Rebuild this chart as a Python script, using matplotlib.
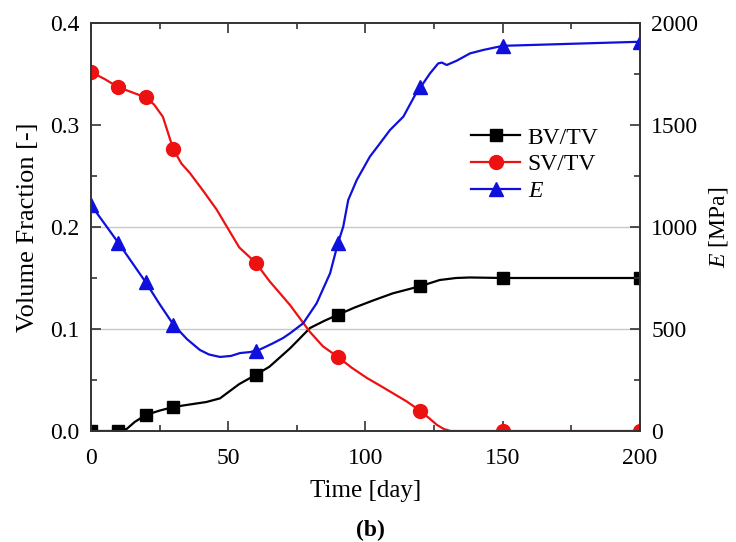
import matplotlib
matplotlib.use("Agg")
import matplotlib.pyplot as plt
from matplotlib.ticker import MultipleLocator
from matplotlib.lines import Line2D

plt.rcParams['font.family'] = ['Liberation Serif', 'DejaVu Serif']
plt.rcParams['mathtext.fontset'] = 'custom'
plt.rcParams['mathtext.it'] = 'Liberation Serif:italic'
plt.rcParams['mathtext.rm'] = 'Liberation Serif'

# marker sample points
t_mark = [0, 10, 20, 30, 60, 90, 120, 150, 200]
bv_mark = [0.0, 0.0, 0.0157, 0.0235, 0.055, 0.114, 0.142, 0.150, 0.150]
sv_mark = [0.352, 0.337, 0.327, 0.276, 0.165, 0.0725, 0.0196, 0.0, 0.0]
e_mark = [1108, 922, 728, 522, 392, 922, 1684, 1888, 1908]

# continuous curves
t_bv = [0, 10, 13, 16, 20, 25, 30, 36, 42, 47, 51, 54, 58, 60, 65, 72.5, 79.8, 85, 90, 96,
        102.8, 110, 120, 127, 133, 138, 150, 200]
bv_line = [0.0, 0.0, 0.002, 0.009, 0.0157, 0.020, 0.0235, 0.026, 0.0284, 0.032, 0.040, 0.046,
           0.052, 0.055, 0.063, 0.081, 0.101, 0.108, 0.114, 0.121, 0.128, 0.135, 0.142, 0.148,
           0.150, 0.1505, 0.150, 0.150]

t_sv = [0, 5, 10, 15, 20, 23, 26.2, 30, 33, 36, 41, 45.8, 50, 54, 60, 65, 72.5, 79.8, 84.5, 90,
        95, 100.5, 105, 110, 115, 120, 123, 126, 128.5, 131, 150, 200]
sv_line = [0.352, 0.345, 0.337, 0.332, 0.327, 0.320, 0.308, 0.276, 0.262, 0.253, 0.235, 0.217,
           0.198, 0.180, 0.165, 0.147, 0.1235, 0.097, 0.083, 0.0725, 0.062, 0.052, 0.045, 0.037,
           0.029, 0.0196, 0.013, 0.006, 0.002, 0.0, 0.0, 0.0]

t_e = [0, 5, 10, 15, 20, 25, 30, 35, 39.7, 43, 47, 51, 54.3, 58, 61.6, 66, 70, 72.5, 77.3, 82.2,
       87.1, 90, 91.9, 93.7, 96.8, 101.6, 105, 108.9, 113.8, 118.6, 120, 123.5, 126.5, 127.8,
       129.6, 133.2, 138.1, 143, 150, 175, 200]
e_line = [1108, 1015, 922, 825, 728, 622, 522, 450, 397, 375, 363, 368, 382, 387, 400, 428, 456,
          479, 528, 626, 773, 922, 1002, 1132, 1230, 1345, 1405, 1475, 1541, 1660, 1684, 1753,
          1802, 1806, 1794, 1815, 1851, 1868, 1888, 1898, 1908]

fig = plt.figure(figsize=(7.36, 5.42), dpi=100)
ax = fig.add_axes([0.1236, 0.2048, 0.746, 0.7528])
ax2 = ax.twinx()

ax.axhline(0.1, color='#c8c8c8', lw=1.0, zorder=0)
ax.axhline(0.2, color='#c8c8c8', lw=1.0, zorder=0)

red = '#ee1111'
blue = '#1010dd'
ax.plot(t_bv, bv_line, color='black', lw=1.6)
ax.plot(t_mark, bv_mark, ls='none', marker='s', ms=8, color='black')
ax.plot(t_sv, sv_line, color=red, lw=1.6)
ax.plot(t_mark, sv_mark, ls='none', marker='o', ms=10, color=red)
ax2.plot(t_e, e_line, color=blue, lw=1.6)
ax2.plot(t_mark, e_mark, ls='none', marker='^', ms=10, color=blue)

ax.set_xlim(0, 200)
ax.set_ylim(0, 0.4)
ax2.set_ylim(0, 2000)

ax.xaxis.set_major_locator(MultipleLocator(50))
ax.xaxis.set_minor_locator(MultipleLocator(25))
ax.yaxis.set_major_locator(MultipleLocator(0.1))
ax.yaxis.set_minor_locator(MultipleLocator(0.05))
ax2.yaxis.set_major_locator(MultipleLocator(500))
ax2.yaxis.set_minor_locator(MultipleLocator(250))
ax.yaxis.set_major_formatter(plt.FuncFormatter(lambda v, p: f"{v:.1f}"))

for a in (ax, ax2):
    for s in a.spines.values():
        s.set_color('#333333')
        s.set_linewidth(1.2)
ax.tick_params(which='both', direction='in', top=True, right=False, labelsize=17, color='#333333')
ax.tick_params(which='major', length=7, width=1.2)
ax.tick_params(which='minor', length=4, width=1.2)
ax.tick_params(axis='x', pad=12)
ax.tick_params(axis='y', pad=8)
ax2.tick_params(which='both', direction='in', labelsize=17, color='#333333', pad=8)
ax2.tick_params(which='major', length=7, width=1.2)
ax2.tick_params(which='minor', length=4, width=1.2)

ax.set_xlabel('Time [day]', fontsize=18, labelpad=8)
ax.set_ylabel('Volume Fraction [-]', fontsize=19, labelpad=8)
ax2.set_ylabel(r'$E$ [MPa]', fontsize=17, labelpad=6)

handles = [
    Line2D([], [], color='black', lw=1.6, marker='s', ms=8),
    Line2D([], [], color=red, lw=1.6, marker='o', ms=10),
    Line2D([], [], color=blue, lw=1.6, marker='^', ms=10),
]
ax.legend(handles, ['BV/TV', 'SV/TV', r'$E$'], loc='upper left', bbox_to_anchor=(0.692, 0.745),
          frameon=False, fontsize=17, handlelength=2.1, labelspacing=0.22, handletextpad=0.3,
          borderaxespad=0, borderpad=0)

fig.text(0.503, 0.022, '(b)', fontsize=17, fontweight='bold', ha='center', va='center')

fig.savefig('out.png', dpi=100)
